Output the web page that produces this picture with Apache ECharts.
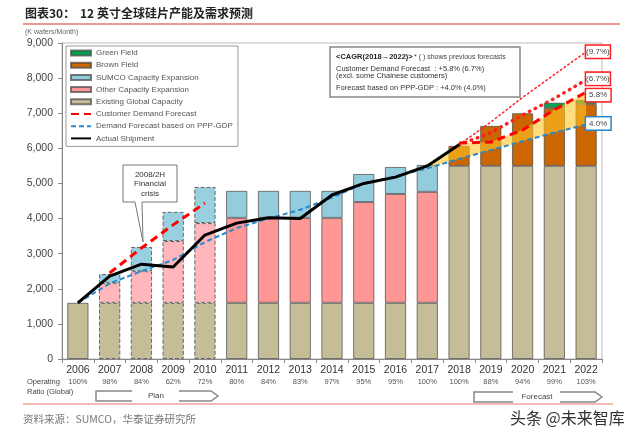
<!DOCTYPE html>
<html>
<head>
<meta charset="utf-8">
<script src="https://cdn.jsdelivr.net/npm/echarts@6/dist/echarts.min.js"></script>
<style>
html,body{margin:0;padding:0;background:#fff;}
#chart{width:640px;height:436px;}
</style>
</head>
<body>
<div id="chart"></div>
<script>
// ---- data ----
const years = ['2006','2007','2008','2009','2010','2011','2012','2013','2014','2015','2016','2017','2018','2019','2020','2021','2022'];
const opRatio = ['100%','98%','84%','62%','72%','80%','84%','83%','97%','95%','95%','100%','100%','88%','94%','99%','103%'];
const planYears = ['2007','2008','2009','2010'];
const existingCap = [1600,1600,1600,1600,1600,1600,1600,1600,1600,1600,1600,1600,5500,5500,5500,5500,5500];
const otherExp    = [null,570,900,1760,2270,2420,2420,2420,2420,2870,3100,3160,null,null,null,null,null];
const sumcoExp    = [null,250,690,830,1030,770,770,770,770,800,770,770,null,null,null,null,null];
const brownField  = [null,null,null,null,null,null,null,null,null,null,null,null,570,1140,1500,1650,1760];
const greenField  = [null,null,null,null,null,null,null,null,null,null,null,null,null,null,null,150,120];
const actualShip  = [1600,2360,2700,2620,3530,3870,4020,4000,4670,5000,5180,5500,6100,null,null,null,null];
const custDemand  = [null,2450,3160,3820,4440,null,null,null,null,null,null,null,6150,6180,6520,7100,7600];
const pppGdp      = [1600,2150,2500,2820,3330,3730,4000,4250,4600,5000,5200,5430,5700,5950,6200,6450,6680];
const prevCust97  = [null,null,null,null,null,null,null,null,null,null,null,null,6100,6750,7450,8100,8750];
const prevCust67  = [null,null,null,null,null,null,null,null,null,null,null,null,6100,6450,6950,7420,7950];
const bandFromYear = '2017';

const FONT = 'Liberation Sans, Arial, sans-serif';
const CJK = 'Noto Sans CJK SC, sans-serif';

// band between PPP-GDP forecast and customer/actual line
const bandIdx = years.indexOf(bandFromYear);
const bandLow = years.map((y,i)=> i>=bandIdx ? pppGdp[i] : null);
const bandDiff = years.map((y,i)=> {
  if (i < bandIdx) return null;
  const up = custDemand[i] != null ? custDemand[i] : actualShip[i];
  return up - pppGdp[i];
});

function barData(arr, color, planColor) {
  return arr.map((v,i)=>{
    if (v == null) return '-';
    if (planYears.includes(years[i])) {
      return {value: v, itemStyle: {color: planColor, borderType: 'dashed', borderColor: '#666', borderWidth: 1}};
    }
    return v;
  });
}
const barBorder = {borderColor: 'rgba(70,70,70,0.7)', borderWidth: 1};
const hideSym = {opacity: 0};

const chart = echarts.init(document.getElementById('chart'), null, {renderer: 'canvas'});

const option = {
  animation: false,
  textStyle: {fontFamily: FONT},
  grid: {left: 62, right: 38, top: 43, bottom: 77, show: true, borderColor: '#bbb', borderWidth: 1, backgroundColor: 'transparent'},
  legend: {
    orient: 'vertical', left: 66, top: 46,
    itemWidth: 20, itemHeight: 5, itemGap: 0.2,
    padding: [1, 5, 2, 4],
    borderColor: '#999', borderWidth: 1, backgroundColor: '#fff',
    textStyle: {fontSize: 8, color: '#555', fontFamily: FONT, lineHeight: 12},
    selectedMode: false,
    data: [
      {name: 'Green Field', icon: 'rect'},
      {name: 'Brown Field', icon: 'rect'},
      {name: 'SUMCO Capacity Expansion', icon: 'rect'},
      {name: 'Other Capacity Expansion', icon: 'rect'},
      {name: 'Existing Global Capacity', icon: 'rect'},
      {name: 'Customer Demand Forecast', itemStyle: hideSym},
      {name: 'Demand Forecast based on PPP-GDP', itemStyle: hideSym},
      {name: 'Actual Shipment', itemStyle: hideSym}
    ]
  },
  xAxis: {
    type: 'category', data: years,
    axisLine: {lineStyle: {color: '#888', width: 1}},
    axisTick: {show: true, length: 4, lineStyle: {color: '#888'}},
    axisLabel: {
      margin: 6, interval: 0,
      formatter: (v, idx) => `{y|${v}}\n{p|${opRatio[idx]}}`,
      rich: {
        y: {fontSize: 10.5, color: '#333', lineHeight: 11, fontFamily: FONT},
        p: {fontSize: 7.5, color: '#555', lineHeight: 11, fontFamily: FONT}
      }
    }
  },
  yAxis: {
    type: 'value', min: 0, max: 9000, interval: 1000,
    axisLine: {show: true, lineStyle: {color: '#888'}},
    axisTick: {show: true, length: 4, lineStyle: {color: '#888'}},
    splitLine: {show: false},
    axisLabel: {fontSize: 10.5, color: '#444', margin: 9, formatter: v => v.toLocaleString('en-US')}
  },
  series: [
    {name: 'Existing Global Capacity', type: 'bar', stack: 'cap', barCategoryGap: '33%',
      itemStyle: Object.assign({color: '#c5bd97'}, barBorder),
      data: barData(existingCap, '#c5bd97', '#c5bd97'), z: 2},
    {name: 'Other Capacity Expansion', type: 'bar', stack: 'cap',
      itemStyle: Object.assign({color: '#ff9797'}, barBorder),
      data: barData(otherExp, '#ff9797', '#ffb7bb'), z: 2},
    {name: 'SUMCO Capacity Expansion', type: 'bar', stack: 'cap',
      itemStyle: Object.assign({color: '#93cddd'}, barBorder),
      data: barData(sumcoExp, '#93cddd', '#99d0df'), z: 2},
    {name: 'Brown Field', type: 'bar', stack: 'cap',
      itemStyle: Object.assign({color: '#cc6600'}, barBorder),
      data: barData(brownField, '#cc6600', '#cc6600'), z: 2},
    {name: 'Green Field', type: 'bar', stack: 'cap',
      itemStyle: Object.assign({color: '#00a550'}, barBorder),
      data: barData(greenField, '#00a550', '#00a550'), z: 2},
    {name: 'bandBase', type: 'line', stack: 'band', data: bandLow, symbol: 'none',
      lineStyle: {opacity: 0}, silent: true, z: 3},
    {name: 'bandFill', type: 'line', stack: 'band', data: bandDiff, symbol: 'none',
      lineStyle: {opacity: 0}, areaStyle: {color: 'rgba(255,198,40,0.6)', opacity: 1}, silent: true, z: 3},
    {name: 'Demand Forecast based on PPP-GDP', type: 'line', data: pppGdp, symbol: 'none', z: 4,
      lineStyle: {color: '#2a87cc', width: 2, type: [5, 3]}, itemStyle: {color: '#2a87cc'},
      endLabel: {show: true, formatter: '4.0%', distance: 0, offset: [0, -1], fontSize: 8, color: '#444',
        backgroundColor: '#fff', borderColor: '#2a87cc', borderWidth: 1.5, padding: [2, 3]}},
    {name: 'prev97', type: 'line', data: prevCust97, symbol: 'none', z: 4,
      lineStyle: {color: '#ff2020', width: 1.5, type: [1.5, 3], cap: 'round'},
      endLabel: {show: true, formatter: '(9.7%)', distance: 0, fontSize: 8, color: '#444',
        backgroundColor: '#fff', borderColor: '#ff2020', borderWidth: 1.5, padding: [2, 0]}},
    {name: 'prev67', type: 'line', data: prevCust67, symbol: 'none', z: 4,
      lineStyle: {color: '#ff2020', width: 3.5, type: [0.5, 6], cap: 'round'},
      endLabel: {show: true, formatter: '(6.7%)', distance: 0, offset: [0, -1], fontSize: 8, color: '#444',
        backgroundColor: '#fff', borderColor: '#ff2020', borderWidth: 1.5, padding: [2, 0]}},
    {name: 'Customer Demand Forecast', type: 'line', data: custDemand, symbol: 'none', z: 5,
      connectNulls: false,
      lineStyle: {color: '#ff0000', width: 3, type: [8, 5]}, itemStyle: {color: '#ff0000'},
      endLabel: {show: true, formatter: '5.8%', distance: 0, offset: [0, 3], fontSize: 8, color: '#444',
        backgroundColor: '#fff', borderColor: '#ff2020', borderWidth: 1.5, padding: [2, 3]}},
    {name: 'Actual Shipment', type: 'line', data: actualShip, symbol: 'none', z: 5,
      lineStyle: {color: '#000', width: 3}, itemStyle: {color: '#000'}}
  ],
  graphic: [
    // title
    {type: 'text', left: 25, top: 7, style: {text: '图表30：', font: 'bold 12px ' + CJK, fill: '#222'}},
    {type: 'text', left: 80, top: 7, style: {text: '12 英寸全球硅片产能及需求预测', font: 'bold 12px ' + CJK, fill: '#222'}},
    {type: 'line', shape: {x1: 23, y1: 24, x2: 620, y2: 24}, style: {stroke: '#e8766a', lineWidth: 1.5}},
    {type: 'text', left: 25, top: 29, style: {text: '(K wafers/Month)', font: '7px ' + FONT, fill: '#666'}},
    // CAGR box
    {type: 'group', z: 10, children: [
      {type: 'rect', shape: {x: 330, y: 47, width: 190, height: 50}, style: {fill: '#fff', stroke: '#888', lineWidth: 1.5}},
      {type: 'text', x: 336, y: 57, style: {text: '<CAGR(2018→2022)>', font: 'bold 7.5px ' + FONT, fill: '#222', textVerticalAlign: 'middle'}},
      {type: 'text', x: 414, y: 57, style: {text: '* ( ) shows previous forecasts', font: '7px ' + FONT, fill: '#444', textVerticalAlign: 'middle'}},
      {type: 'text', x: 336, y: 69, style: {text: 'Customer Demand Forecast  : +5.8% (6.7%)', font: '7.5px ' + FONT, fill: '#333', textVerticalAlign: 'middle'}},
      {type: 'text', x: 336, y: 76, style: {text: '(excl. some Chainese customers)', font: '7.5px ' + FONT, fill: '#333', textVerticalAlign: 'middle'}},
      {type: 'text', x: 336, y: 88, style: {text: 'Forecast based on PPP-GDP : +4.0% (4.0%)', font: '7.5px ' + FONT, fill: '#333', textVerticalAlign: 'middle'}}
    ]},
    // financial crisis callout
    {type: 'group', z: 10, children: [
      {type: 'polygon', shape: {points: [[123,165],[177,165],[177,202],[142,202],[143,242],[135,202],[123,202]]},
        style: {fill: '#fff', stroke: '#777', lineWidth: 1}},
      {type: 'text', x: 150, y: 184, style: {text: '2008/2H\nFinancial\ncrisis', font: '8px ' + FONT, fill: '#333',
        textAlign: 'center', textVerticalAlign: 'middle', lineHeight: 9.5}}
    ]},
    // operating ratio label
    {type: 'text', x: 27, y: 382, style: {text: 'Operating', font: '7.5px ' + FONT, fill: '#444', textVerticalAlign: 'middle'}},
    {type: 'text', x: 27, y: 392, style: {text: 'Ratio (Global)', font: '7.5px ' + FONT, fill: '#444', textVerticalAlign: 'middle'}},
    // plan arrow
    {type: 'polyline', shape: {points: [[132,391],[96,391],[96,401],[132,401]]}, style: {stroke: '#888', lineWidth: 1.5, fill: null}},
    {type: 'text', x: 156, y: 396, style: {text: 'Plan', font: '8px ' + FONT, fill: '#444', textAlign: 'center', textVerticalAlign: 'middle'}},
    {type: 'polyline', shape: {points: [[179,391],[211,391],[218,396],[211,401],[179,401]]}, style: {stroke: '#888', lineWidth: 1.5, fill: null}},
    // forecast arrow
    {type: 'polyline', shape: {points: [[513,392],[474,392],[474,402],[513,402]]}, style: {stroke: '#888', lineWidth: 1.5, fill: null}},
    {type: 'text', x: 537, y: 397, style: {text: 'Forecast', font: '8px ' + FONT, fill: '#444', textAlign: 'center', textVerticalAlign: 'middle'}},
    {type: 'polyline', shape: {points: [[560,392],[595,392],[602,397],[595,402],[560,402]]}, style: {stroke: '#888', lineWidth: 1.5, fill: null}},
    // footer
    {type: 'line', shape: {x1: 23, y1: 404, x2: 613, y2: 404}, style: {stroke: '#e8766a', lineWidth: 1}},
    {type: 'text', x: 23, y: 419, style: {text: '资料来源：SUMCO，华泰证券研究所', font: '10.5px ' + CJK, fill: '#777', textVerticalAlign: 'middle'}},
    {type: 'text', x: 510, y: 418, style: {text: '头条 @未来智库', font: '16px ' + CJK, fill: '#333', textVerticalAlign: 'middle'}}
  ]
};
chart.setOption(option);
</script>
</body>
</html>
